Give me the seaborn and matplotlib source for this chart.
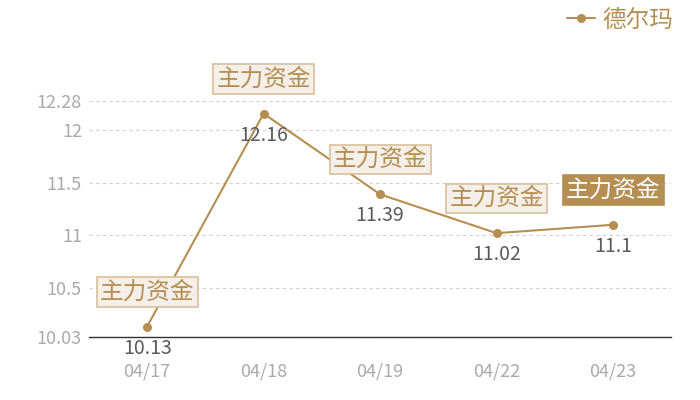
import pandas as pd
import matplotlib.pyplot as plt
import seaborn as sns

# values
dates = ["04/17", "04/18", "04/19", "04/22", "04/23"]
prices = [10.13, 12.16, 11.39, 11.02, 11.1]
y_ticks = [10.03, 10.5, 11, 11.5, 12, 12.28]
y_tick_labels = ["10.03", "10.5", "11", "11.5", "12", "12.28"]
tag = "主力资金"
series_name = "德尔玛"

gold = "#b58f52"

sns.set_theme(style="white")
plt.rcParams["font.family"] = ["Noto Sans CJK SC", "DejaVu Sans"]

df = pd.DataFrame({"date": dates, "price": prices, "stock": series_name})

fig = plt.figure(figsize=(7, 4), dpi=100)
ax = fig.add_axes([0.127, 0.1575, 0.832, 0.59])

sns.lineplot(data=df, x="date", y="price", hue="stock", palette=[gold],
             marker="o", markersize=6.5, markeredgewidth=0, linewidth=1.5,
             ax=ax, sort=False)

ax.set_xlim(-0.5, len(dates) - 0.5)
ax.set_ylim(y_ticks[0], y_ticks[-1])
ax.set_yticks(y_ticks)
ax.set_yticklabels(y_tick_labels)
ax.yaxis.grid(True, linestyle=(0, (3, 3)), color="#d0d0d0", linewidth=0.8)
ax.set_axisbelow(True)
ax.tick_params(axis="both", length=0, labelsize=13, labelcolor="#aaaaaa")
ax.tick_params(axis="y", pad=5)
ax.tick_params(axis="x", pad=18)
ax.set_xlabel("")
ax.set_ylabel("")
for s in ["top", "right", "left"]:
    ax.spines[s].set_visible(False)
ax.spines["bottom"].set_color("#333333")
ax.spines["bottom"].set_linewidth(1)

for i, v in enumerate(prices):
    ax.annotate(f"{v:g}", (i, v), xytext=(0, -15.5), textcoords="offset points",
                ha="center", va="center", fontsize=14, color="#5a5a5a")
    last = i == len(prices) - 1
    ax.annotate(tag, (i, v), xytext=(0, 25), textcoords="offset points",
                ha="center", va="center", fontsize=17,
                color="white" if last else gold,
                bbox=dict(boxstyle="square,pad=0.14",
                          fc=gold if last else "#f4efe8",
                          ec=gold if last else "#d8c09a", lw=1.2))

leg = ax.legend(loc="upper right", bbox_to_anchor=(0.968, 0.99),
                bbox_transform=fig.transFigure, frameon=False,
                fontsize=17, handlelength=1.2, handletextpad=0.3,
                borderaxespad=0, borderpad=0.2)
for t in leg.get_texts():
    t.set_color(gold)

fig.savefig("out.png", dpi=100)
